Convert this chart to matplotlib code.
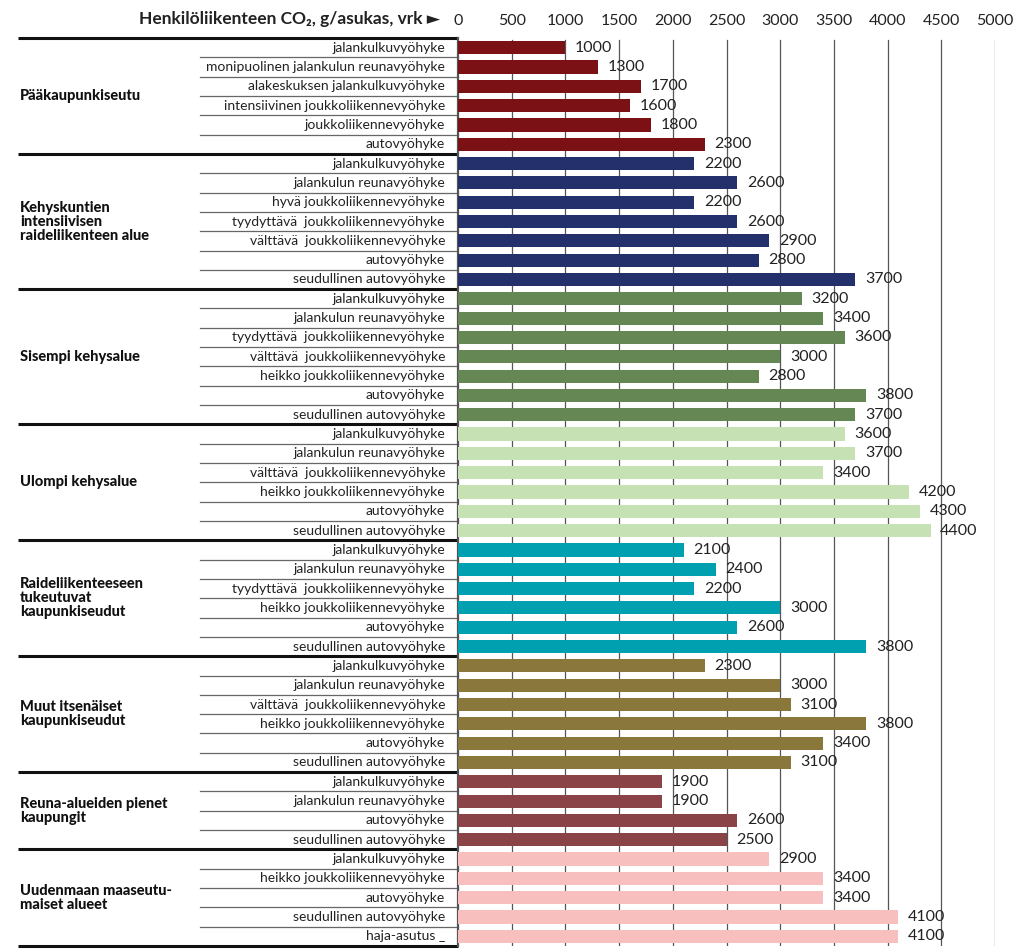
import matplotlib.pyplot as plt
import matplotlib.transforms as mtransforms

plt.rcParams['font.family'] = ['Lato', 'DejaVu Sans']

# group names, zone labels and CO2 values (g/asukas, vrk)
groups = [
    "Pääkaupunkiseutu",
    "Kehyskuntien\nintensiivisen\nraideliikenteen alue",
    "Sisempi kehysalue",
    "Ulompi kehysalue",
    "Raideliikenteeseen\ntukeutuvat\nkaupunkiseudut",
    "Muut itsenäiset\nkaupunkiseudut",
    "Reuna-alueiden pienet\nkaupungit",
    "Uudenmaan maaseutu-\nmaiset alueet",
]

zones = [
    ["jalankulkuvyöhyke", "monipuolinen jalankulun reunavyöhyke",
     "alakeskuksen jalankulkuvyöhyke", "intensiivinen joukkoliikennevyöhyke",
     "joukkoliikennevyöhyke", "autovyöhyke"],
    ["jalankulkuvyöhyke", "jalankulun reunavyöhyke", "hyvä joukkoliikennevyöhyke",
     "tyydyttävä  joukkoliikennevyöhyke", "välttävä  joukkoliikennevyöhyke",
     "autovyöhyke", "seudullinen autovyöhyke"],
    ["jalankulkuvyöhyke", "jalankulun reunavyöhyke", "tyydyttävä  joukkoliikennevyöhyke",
     "välttävä  joukkoliikennevyöhyke", "heikko joukkoliikennevyöhyke",
     "autovyöhyke", "seudullinen autovyöhyke"],
    ["jalankulkuvyöhyke", "jalankulun reunavyöhyke", "välttävä  joukkoliikennevyöhyke",
     "heikko joukkoliikennevyöhyke", "autovyöhyke", "seudullinen autovyöhyke"],
    ["jalankulkuvyöhyke", "jalankulun reunavyöhyke", "tyydyttävä  joukkoliikennevyöhyke",
     "heikko joukkoliikennevyöhyke", "autovyöhyke", "seudullinen autovyöhyke"],
    ["jalankulkuvyöhyke", "jalankulun reunavyöhyke", "välttävä  joukkoliikennevyöhyke",
     "heikko joukkoliikennevyöhyke", "autovyöhyke", "seudullinen autovyöhyke"],
    ["jalankulkuvyöhyke", "jalankulun reunavyöhyke", "autovyöhyke",
     "seudullinen autovyöhyke"],
    ["jalankulkuvyöhyke", "heikko joukkoliikennevyöhyke", "autovyöhyke",
     "seudullinen autovyöhyke", "haja-asutus _"],
]

values = [
    [1000, 1300, 1700, 1600, 1800, 2300],
    [2200, 2600, 2200, 2600, 2900, 2800, 3700],
    [3200, 3400, 3600, 3000, 2800, 3800, 3700],
    [3600, 3700, 3400, 4200, 4300, 4400],
    [2100, 2400, 2200, 3000, 2600, 3800],
    [2300, 3000, 3100, 3800, 3400, 3100],
    [1900, 1900, 2600, 2500],
    [2900, 3400, 3400, 4100, 4100],
]

colors = ["#7b1015", "#23306b", "#658753", "#c6e2b5",
          "#00a0b0", "#8a773c", "#8a4448", "#f8bfbf"]

xticks = [0, 500, 1000, 1500, 2000, 2500, 3000, 3500, 4000, 4500, 5000]

fig = plt.figure(figsize=(10.19, 9.52), dpi=100)
ax = fig.add_axes([458 / 1019, 1 - 946 / 952, (995 - 458) / 1019, (946 - 38) / 952])

n_rows = sum(len(z) for z in zones)
blend = mtransforms.blended_transform_factory(ax.transAxes, ax.transData)

# x positions of left-side elements in axes coords
px = 1.0 / (995 - 458)
x_thin = (200 - 458) * px
x_thick = (18 - 458) * px
x_zone = (445 - 458) * px
x_group = (20 - 458) * px

row = 0
for g, (name, zl, vals, col) in enumerate(zip(groups, zones, values, colors)):
    ys = list(range(row, row + len(zl)))
    ax.barh(ys, vals, height=0.68, color=col, zorder=3)
    for y, lab, v in zip(ys, zl, vals):
        ax.text(x_zone, y, lab, transform=blend, ha='right', va='center',
                fontsize=10, color='#222222')
        ax.text(v + 90, y, f"{v}", ha='left', va='center', fontsize=11.5,
                color='#222222', zorder=4)
        if y > row:
            ax.plot([x_thin, 0], [y - 0.5, y - 0.5], transform=blend,
                    color='#666666', lw=0.9, clip_on=False)
    center = row + (len(zl) - 1) / 2
    ax.text(x_group, center, name, transform=blend, ha='left', va='center',
            fontsize=10.5, fontweight='black', color='#111111', linespacing=1.0)
    ax.plot([x_thick, 0], [row - 0.5, row - 0.5], transform=blend,
            color='#111111', lw=2.2, clip_on=False, solid_capstyle='butt')
    row += len(zl)

ax.plot([x_thick, 0], [row - 0.5, row - 0.5], transform=blend,
        color='#111111', lw=2.2, clip_on=False, solid_capstyle='butt')

ax.set_xlim(0, 5000)
ax.set_ylim(n_rows - 0.5, -0.5)
ax.set_yticks([])
ax.set_xticks(xticks)
ax.xaxis.tick_top()
ax.tick_params(axis='x', length=0, pad=7, labelsize=11.5, labelcolor='#222222')

for x in xticks[1:]:
    ax.axvline(x, ymax=0.998, color='#555555', lw=0.9, zorder=1)

for s in ['top', 'right', 'bottom']:
    ax.spines[s].set_visible(False)
ax.spines['left'].set_color('#555555')
ax.spines['left'].set_linewidth(1.6)

fig.text(440 / 1019, 1 - 19 / 952, "Henkilöliikenteen CO₂, g/asukas, vrk ►",
         ha='right', va='center', fontsize=12.5, fontweight='bold', color='#222222')

fig.savefig("out.png", dpi=100)
